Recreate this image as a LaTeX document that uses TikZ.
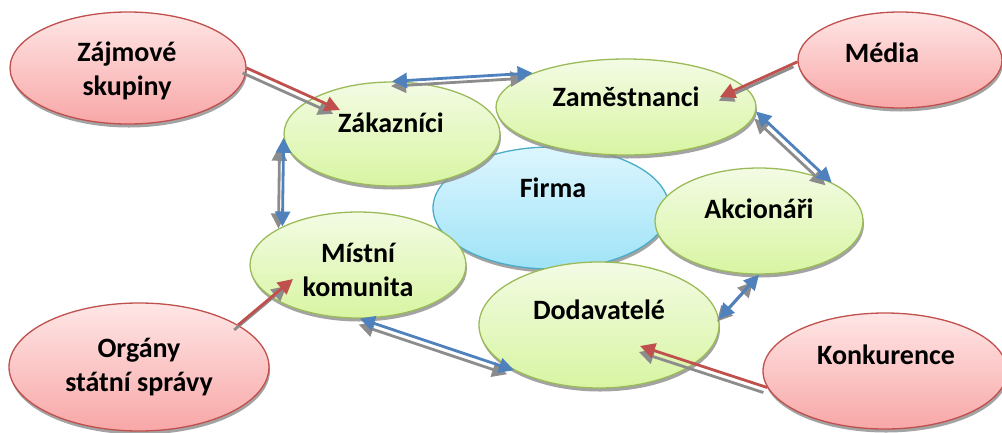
\documentclass[tikz,border=0pt]{standalone}
\usepackage{fontspec}
\setmainfont{Carlito}
\usetikzlibrary{shapes.geometric,shadows,arrows.meta}
\definecolor{zelokraj}{HTML}{9BBB59}
\definecolor{zelhore}{HTML}{F3FBE4}
\definecolor{zeldole}{HTML}{D8F5A2}
\definecolor{cerokraj}{HTML}{C0504D}
\definecolor{cerhore}{HTML}{FFE6E6}
\definecolor{cerdole}{HTML}{F8A7A7}
\definecolor{modokraj}{HTML}{4BACC6}
\definecolor{modhore}{HTML}{DDF6FE}
\definecolor{moddole}{HTML}{9FE3F7}
\definecolor{sipka}{HTML}{4F81BD}

\begin{document}
\begin{tikzpicture}[x=1pt,y=-1pt,
	stin/.style={drop shadow={shadow xshift=1pt,shadow yshift=-3.5pt,fill=black!45,opacity=.8}},
	zel/.style={ellipse,inner sep=0pt,draw=zelokraj,line width=1.3pt,top color=zelhore,bottom color=zeldole,stin},
	cer/.style={ellipse,inner sep=0pt,draw=cerokraj,line width=1.3pt,top color=cerhore,bottom color=cerdole,stin},
	mod/.style={ellipse,inner sep=0pt,draw=modokraj,line width=1.3pt,top color=modhore,bottom color=moddole,stin},
	txt/.style={font=\bfseries\fontsize{28}{34}\selectfont,align=center,anchor=base},
	obou/.style={line width=2.8pt,{Triangle[length=15pt,width=15pt]}-{Triangle[length=15pt,width=15pt]}},
	jedn/.style={line width=2.8pt,-{Triangle[length=15pt,width=15pt]}},
	sed/.style={draw=black!45,shorten <=3pt,shorten >=3pt,transform canvas={xshift=-4pt,yshift=-5pt}}]
	\useasboundingbox (0,0) rectangle (1002,432);
	% stred
	\node[mod,minimum width=236pt,minimum height=122pt] (fir) at (551,208) {};
	% vnitrni kruh
	\node[zel,minimum width=216pt,minimum height=104pt] (zak) at (392,134) {};
	\node[zel,minimum width=260pt,minimum height=96pt] (zam) at (626,107) {};
	\node[zel,minimum width=208pt,minimum height=106pt] (akc) at (759,221) {};
	\node[zel,minimum width=240pt,minimum height=126pt] (dod) at (599,325) {};
	\node[zel,minimum width=216pt,minimum height=106pt] (mis) at (358,265) {};
	% okoli
	\node[cer,minimum width=236pt,minimum height=112pt] (zaj) at (128,68) {};
	\node[cer,minimum width=204pt,minimum height=96pt] (med) at (900,60) {};
	\node[cer,minimum width=260pt,minimum height=128pt] (org) at (139,367) {};
	\node[cer,minimum width=244pt,minimum height=116pt] (kon) at (885,371) {};
	% texty
	\node[txt] (firt) at (553,197) {Firma};
	\node[txt] (zakt) at (391,132) {Zákazníci};
	\node[txt] (zamt) at (626,106) {Zaměstnanci};
	\node[txt] (akct) at (759,218) {Akcionáři};
	\node[txt] (dodt) at (599,319) {Dodavatelé};
	\node[txt] (mist) at (358,296) {Místní\\komunita};
	\node[txt] (zajt) at (127,95) {Zájmové\\skupiny};
	\node[txt] (medt) at (882,62) {Média};
	\node[txt] (orgt) at (139,391) {Orgány\\státní správy};
	\node[txt] (kont) at (886,364) {Konkurence};
	% vazby
	\draw[obou,sed] (zak.90) -- (zam.160);
	\draw[obou,sed] (zam.-2) -- (akc.28);
	\draw[obou,sed] (akc.-90) -- (dod.3);
	\draw[obou,sed] (dod.208) -- (mis.-88);
	\draw[obou,sed] (mis.153) -- (zak.182);
	\draw[obou,sipka] (zak.90) -- (zam.160);
	\draw[obou,sipka] (zam.-2) -- (akc.28);
	\draw[obou,sipka] (akc.-90) -- (dod.3);
	\draw[obou,sipka] (dod.208) -- (mis.-88);
	\draw[obou,sipka] (mis.153) -- (zak.182);
	% vlivy
	\draw[jedn,sed,shorten <=0pt] (zaj.0) -- ([shift={(-52,-24)}]zak.center);
	\draw[jedn,sed,shorten <=0pt] (med.181) -- ([shift={(94,-10)}]zam.center);
	\draw[jedn,sed,shorten <=0pt] (org.23) -- ([shift={(-65,14)}]mis.center);
	\draw[jedn,sed,shorten <=0pt] (kon.188) -- ([shift={(41,21)}]dod.center);
	\draw[jedn,cerokraj] (zaj.0) -- ([shift={(-52,-24)}]zak.center);
	\draw[jedn,cerokraj] (med.181) -- ([shift={(94,-10)}]zam.center);
	\draw[jedn,cerokraj] (org.23) -- ([shift={(-65,14)}]mis.center);
	\draw[jedn,cerokraj] (kon.188) -- ([shift={(41,21)}]dod.center);
\end{tikzpicture}
\end{document}
